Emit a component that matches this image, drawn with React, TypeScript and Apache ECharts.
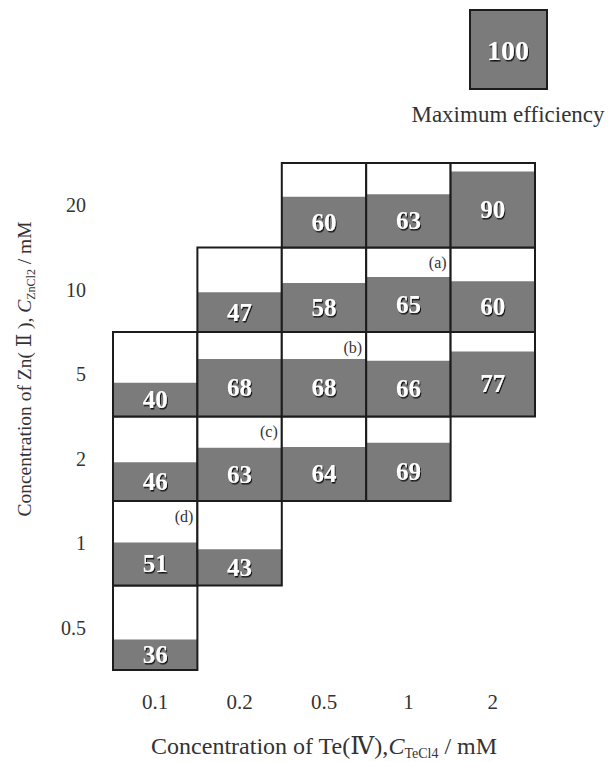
import React, { useEffect, useRef } from "react";
import * as echarts from "echarts";

// Te(IV) concentration (mM) along x, Zn(II) concentration (mM) along y (bottom to top)
const teLevels = ["0.1", "0.2", "0.5", "1", "2"];
const znLevels = ["0.5", "1", "2", "5", "10", "20"];

// Efficiency (%) in each Te column, listed by Zn level from 0.5 to 20 mM; null = not measured
const efficiencyTe01 = [36, 51, 46, 40, null, null];
const efficiencyTe02 = [null, 43, 63, 68, 47, null];
const efficiencyTe05 = [null, null, 64, 68, 58, 60];
const efficiencyTe1 = [null, null, 69, 66, 65, 63];
const efficiencyTe2 = [null, null, null, 77, 60, 90];

// Marked conditions
const markTe = ["1", "0.5", "0.2", "0.1"];
const markZn = ["10", "5", "2", "1"];
const markText = ["(a)", "(b)", "(c)", "(d)"];

const maxEfficiency = 100;

const FILL = "#7b7b7b";
const EDGE = "#1c1c1c";
const INK = "#333333";
const SERIF = "Liberation Serif, DejaVu Serif, serif";

const columns = [efficiencyTe01, efficiencyTe02, efficiencyTe05, efficiencyTe1, efficiencyTe2];

export default function App() {
  const ref = useRef<HTMLDivElement>(null);

  useEffect(() => {
    if (!ref.current) return;
    const chart = echarts.init(ref.current, null, { renderer: "svg" });

    const cells: any[] = [];
    columns.forEach((col, xi) => {
      col.forEach((v, yi) => {
        if (v == null) return;
        const mi = markTe.findIndex((t, k) => t === teLevels[xi] && markZn[k] === znLevels[yi]);
        cells.push([xi, yi, v, mi >= 0 ? markText[mi] : ""]);
      });
    });

    const valueLabelStyle = {
      fill: "#ffffff",
      fontFamily: SERIF,
      fontWeight: "bold",
      fontSize: 25,
      align: "center",
      verticalAlign: "middle",
      textShadowColor: "rgba(0,0,0,0.85)",
      textShadowOffsetX: 1,
      textShadowOffsetY: 1.5,
      textShadowBlur: 1,
    };

    chart.setOption({
      animation: false,
      grid: { left: 113, right: 76, top: 163, bottom: 92, outerBoundsMode: "none", containLabel: false },
      xAxis: {
        type: "category",
        data: teLevels,
        axisLine: { show: false },
        axisTick: { show: false },
        splitLine: { show: false },
        axisLabel: { fontSize: 21, fontFamily: SERIF, color: INK, margin: 21 },
        name: "Concentration of Te(Ⅳ),{it|C}{sub|TeCl4} / mM",
        nameLocation: "middle",
        nameGap: 62,
        nameTextStyle: {
          fontSize: 24,
          fontFamily: SERIF,
          color: INK,
          lineHeight: 28,
          rich: {
            it: { fontStyle: "italic", fontSize: 24, fontFamily: SERIF, color: INK, lineHeight: 28 },
            sub: { fontSize: 14, fontFamily: SERIF, color: INK, lineHeight: 14, verticalAlign: "bottom" },
          },
        },
      },
      yAxis: {
        type: "category",
        data: znLevels,
        axisLine: { show: false },
        axisTick: { show: false },
        splitLine: { show: false },
        axisLabel: { fontSize: 20, fontFamily: SERIF, color: INK, margin: 27 },
      },
      graphic: [
        {
          type: "text",
          x: 24,
          y: 369,
          rotation: Math.PI / 2,
          style: {
            text: "Concentration of Zn( Ⅱ ), {it|C}{sub|ZnCl2} / mM",
            fill: INK,
            fontFamily: SERIF,
            fontSize: 19.5,
            align: "center",
            verticalAlign: "middle",
            lineHeight: 26,
            rich: {
              it: { fontStyle: "italic", fontSize: 19.5, fontFamily: SERIF, fill: INK, lineHeight: 26 },
              sub: { fontSize: 12, fontFamily: SERIF, fill: INK, lineHeight: 12, verticalAlign: "bottom" },
            },
          },
        },
        {
          type: "rect",
          shape: { x: 470, y: 10, width: 77, height: 79 },
          style: { fill: FILL, stroke: EDGE, lineWidth: 2 },
        },
        {
          type: "text",
          x: 508,
          y: 50,
          style: { ...valueLabelStyle, text: String(maxEfficiency), fontSize: 28 },
        },
        {
          type: "text",
          x: 508,
          y: 114,
          style: {
            text: "Maximum efficiency",
            fill: INK,
            fontFamily: SERIF,
            fontSize: 23,
            align: "center",
            verticalAlign: "middle",
          },
        },
      ],
      series: [
        {
          type: "custom",
          data: cells,
          encode: { x: 0, y: 1 },
          renderItem: (params: any, api: any) => {
            const c = api.coord([api.value(0), api.value(1)]);
            const s = api.size([1, 1]);
            const w = s[0];
            const h = s[1];
            const v = api.value(2) as number;
            const note = cells[params.dataIndex][3] as string;
            const left = c[0] - w / 2;
            const top = c[1] - h / 2;
            const gh = (h * v) / maxEfficiency;
            const children: any[] = [
              { type: "rect", shape: { x: left, y: top, width: w, height: h }, style: { fill: "#ffffff" } },
              { type: "rect", shape: { x: left, y: top + h - gh, width: w, height: gh }, style: { fill: FILL } },
              {
                type: "rect",
                shape: { x: left, y: top, width: w, height: h },
                style: { fill: "none", stroke: EDGE, lineWidth: 2 },
              },
              {
                type: "text",
                x: c[0],
                y: top + h - gh / 2,
                style: { ...valueLabelStyle, text: String(v) },
              },
            ];
            if (note) {
              children.push({
                type: "text",
                x: left + w - 4,
                y: top + 15,
                style: {
                  text: note,
                  fill: INK,
                  fontFamily: SERIF,
                  fontSize: 16,
                  align: "right",
                  verticalAlign: "middle",
                },
              });
            }
            return { type: "group", children };
          },
        },
      ],
    });

    return () => chart.dispose();
  }, []);

  return <div ref={ref} style={{ width: 611, height: 762, position: "absolute", left: 0, top: 0 }} />;
}
